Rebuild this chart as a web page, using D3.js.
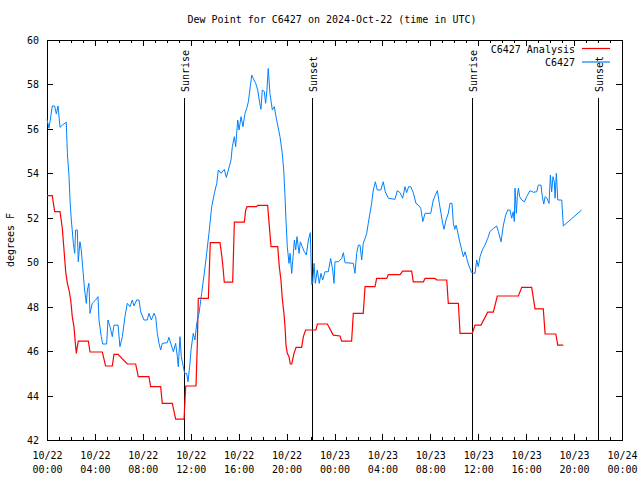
<!DOCTYPE html>
<html><head><meta charset="utf-8">
<script src="https://cdn.jsdelivr.net/npm/d3@7"></script>
<style>
body{margin:0;background:#fff;}
svg{display:block;}
text{font-family:"DejaVu Sans Mono",monospace;font-size:10px;fill:#000;}
</style></head>
<body><svg id="c" width="640" height="480"></svg>
<script>
// hours since 2024-10-22 00:00 UTC, degrees F
const obsHours = [0,0.17,0.25,0.44,0.64,0.78,0.92,1.09,1.28,1.61,1.7,1.84,1.92,2.03,2.2,2.31,2.39,2.53,2.61,2.75,2.86,3.0,3.14,3.28,3.37,3.5,3.59,3.78,4.06,4.26,4.34,4.53,4.65,4.98,5.09,5.26,5.45,5.59,5.93,6.09,6.29,6.51,6.7,6.93,7.12,7.26,7.49,7.68,7.82,8.1,8.37,8.51,8.71,8.93,9.07,9.21,9.35,9.49,9.62,10.04,10.18,10.33,10.55,10.74,10.88,10.96,11.1,11.21,11.38,11.49,11.66,11.77,11.94,12.02,12.21,12.35,12.5,12.69,12.91,13.13,13.33,13.52,13.75,13.97,14.17,14.3,14.53,14.8,14.97,15.14,15.36,15.47,15.64,15.75,15.92,16.03,16.2,16.36,16.53,16.67,16.81,16.97,17.09,17.22,17.42,17.59,17.76,17.86,17.97,18.14,18.25,18.36,18.47,18.61,18.81,18.97,19.17,19.45,19.64,19.76,19.87,19.95,20.06,20.2,20.29,20.43,20.54,20.65,20.76,20.87,21.04,21.15,21.31,21.48,21.65,21.82,21.98,22.1,22.18,22.29,22.4,22.56,22.73,22.87,23.01,23.21,23.48,23.68,23.85,23.96,24.04,24.32,24.6,24.74,24.88,25.57,25.71,25.85,25.99,26.13,26.27,26.4,26.55,26.69,26.82,26.96,27.1,27.24,27.41,27.57,27.86,28.07,28.24,28.49,29.05,29.24,29.47,29.69,29.89,30.02,30.19,30.36,30.58,30.8,31.0,31.2,31.37,31.56,32.03,32.25,32.42,32.59,32.75,32.89,33.03,33.14,33.31,33.5,33.64,33.81,33.92,34.04,34.15,34.25,34.42,34.62,34.76,34.9,35.04,35.2,35.45,35.73,35.87,36.0,36.15,36.34,36.56,36.79,36.98,37.26,37.54,37.68,37.9,38.1,38.29,38.46,38.65,38.79,38.92,39.01,39.07,39.18,39.26,39.35,39.46,39.63,39.85,40.04,40.32,40.6,40.88,41.01,41.24,41.35,41.47,41.58,41.74,41.91,42.02,42.13,42.24,42.35,42.41,42.52,42.64,42.97,43.1,44.63];
const obsValues = [56.43,56.03,56.32,57.03,57.03,56.67,57.03,56.07,56.17,56.3,54.9,53.85,52.8,51.9,50.85,50.4,51.45,51.45,50.02,50.92,50.55,49.65,48.75,48.15,48.75,49.05,47.7,48.15,48.3,48.45,47.4,46.65,46.32,46.32,47.4,47.1,46.65,47.17,47.17,46.2,46.65,47.55,48.15,48.0,48.3,48.03,48.3,48.3,47.77,47.4,47.4,47.7,47.4,47.7,47.55,46.8,46.35,46.05,46.35,46.38,46.62,46.35,45.97,46.35,45.75,45.3,46.65,45.75,45.3,45.0,45.0,44.62,45.45,46.05,46.8,46.5,47.25,47.7,48.6,49.5,50.4,51.3,52.5,53.1,53.55,54.15,54.0,54.18,53.82,54.15,54.6,55.2,55.65,55.2,56.4,55.95,56.55,56.1,56.7,56.92,57.22,57.9,58.42,58.27,58.05,57.75,57.15,56.88,57.75,57.68,57.15,57.75,58.72,57.6,56.85,57.0,56.4,55.65,54.9,54.15,52.95,51.9,50.7,49.95,50.4,49.5,50.25,51.0,50.55,51.15,50.4,50.92,50.7,50.47,50.33,51.0,51.33,49.0,49.05,49.95,49.05,49.65,49.05,49.5,49.2,49.57,49.57,50.17,49.65,49.05,50.02,50.02,50.17,50.43,49.98,49.95,49.5,50.4,50.77,50.77,50.1,50.85,51.07,51.3,51.75,52.2,52.65,53.25,53.62,53.25,53.25,53.62,53.17,52.88,52.83,53.22,53.13,52.88,53.4,53.13,53.4,53.4,53.13,52.65,52.57,52.43,51.83,52.2,52.2,52.8,53.02,53.22,52.65,52.2,51.75,51.48,51.9,52.2,52.65,52.65,51.75,51.48,51.67,51.45,51.0,50.55,50.25,50.47,50.17,49.87,49.53,49.5,50.1,49.8,50.25,50.55,50.77,51.07,51.38,51.52,51.63,51.38,50.92,51.67,52.12,52.35,52.35,51.98,52.27,51.83,53.33,52.2,52.95,53.33,52.95,52.8,52.72,52.95,53.22,53.15,53.17,53.47,53.47,52.95,52.62,52.95,52.88,52.65,53.92,53.17,53.85,53.62,52.88,54.0,52.8,52.8,51.63,52.35];

const anaHours = [0,0.44,0.64,1.09,1.28,1.42,1.56,1.7,1.84,1.98,2.11,2.25,2.39,2.45,2.53,2.61,3.45,3.59,4.62,4.89,5.45,5.59,5.93,6.7,7.4,7.62,8.51,8.65,9.49,9.62,10.46,10.74,11.44,11.58,12.44,12.55,12.63,13.47,13.63,14.44,14.6,14.7,14.8,15.5,15.64,16.47,16.59,16.7,17.5,17.58,18.42,18.7,19.26,19.39,19.53,19.64,19.78,19.87,19.95,20.06,20.2,20.31,20.43,20.62,20.79,21.26,21.4,21.59,22.45,22.57,23.4,23.9,24.46,24.6,25.43,25.57,26.4,26.55,27.38,27.52,28.36,28.49,29.47,29.69,30.44,30.58,31.42,31.56,32.39,32.53,33.37,33.5,34.34,34.48,35.5,35.73,36.23,36.79,37.26,37.59,39.35,39.63,40.46,40.74,41.43,41.58,42.47,42.64,43.1];
const anaValues = [53.0,53.0,52.28,52.28,51.52,50.55,49.57,49.05,48.75,48.3,47.55,47.1,46.2,45.9,46.2,46.45,46.45,45.96,45.96,45.33,45.33,45.85,45.85,45.42,45.42,44.85,44.85,44.4,44.4,43.65,43.65,42.94,42.94,44.43,44.43,46.35,48.37,48.37,50.88,50.88,50.25,49.73,49.1,49.1,51.8,51.8,52.35,52.5,52.5,52.56,52.56,50.7,50.7,49.8,49.2,48.37,47.7,47.1,46.27,45.9,45.75,45.42,45.42,45.9,46.17,46.17,46.65,46.95,46.95,47.22,47.22,46.72,46.68,46.45,46.45,47.7,47.7,48.9,48.9,49.27,49.27,49.44,49.44,49.6,49.6,49.12,49.12,49.27,49.27,49.2,49.2,48.15,48.15,46.8,46.8,47.17,47.17,47.75,47.75,48.48,48.48,48.87,48.87,47.9,47.9,46.77,46.77,46.27,46.27];

const sunEventHours = [11.47, 22.1, 35.5, 46.03];
const sunEventLabels = ["Sunrise", "Sunset", "Sunrise", "Sunset"];
const yTickValues = [42,44,46,48,50,52,54,56,58,60];
const seriesNames = ["C6427 Analysis", "C6427"];
const seriesColors = ["#ff0000", "#0080ff"];
const titleText = "Dew Point for C6427 on 2024-Oct-22 (time in UTC)";
const yLabel = "degrees F";

const t0 = Date.UTC(2024, 9, 22);
const toDate = h => new Date(t0 + h * 3600e3);

const L = 47, R = 622, T = 40, B = 440;
const svg = d3.select("#c");
const x = d3.scaleUtc().domain([toDate(0), toDate(48)]).range([L, R]);
const y = d3.scaleLinear().domain([42, 60]).range([B, T]);

svg.append("text").attr("x", 332).attr("y", 23).attr("text-anchor", "middle").text(titleText);
svg.append("text").attr("transform", "translate(14,240) rotate(-90)").attr("text-anchor", "middle").text(yLabel);

svg.append("g").attr("transform", `translate(0,${B})`)
  .call(d3.axisBottom(x).ticks(d3.utcHour.every(1)).tickSize(-3).tickFormat(""))
  .call(g => g.select(".domain").remove());
svg.append("g").attr("transform", `translate(0,${T})`)
  .call(d3.axisTop(x).ticks(d3.utcHour.every(1)).tickSize(-3).tickFormat(""))
  .call(g => g.select(".domain").remove());

const fmtD = d3.utcFormat("%m/%d"), fmtT = d3.utcFormat("%H:%M");
const gxb = svg.append("g").attr("transform", `translate(0,${B})`)
  .call(d3.axisBottom(x).ticks(d3.utcHour.every(4)).tickSize(-6).tickPadding(0).tickFormat(""));
gxb.select(".domain").remove();
gxb.selectAll(".tick").append("text").attr("fill", "#000").attr("text-anchor", "middle")
  .each(function(d){
    const t = d3.select(this);
    t.append("tspan").attr("x", 0).attr("y", 19).text(fmtD(d));
    t.append("tspan").attr("x", 0).attr("y", 33).text(fmtT(d));
  });
svg.append("g").attr("transform", `translate(0,${T})`)
  .call(d3.axisTop(x).ticks(d3.utcHour.every(4)).tickSize(-6).tickFormat(""))
  .call(g => g.select(".domain").remove());

const gyl = svg.append("g").attr("transform", `translate(${L},0)`)
  .call(d3.axisLeft(y).tickValues(yTickValues).tickSize(-6).tickPadding(8).tickFormat(d3.format("d")));
gyl.select(".domain").remove();
gyl.selectAll(".tick text").attr("dy", "0.35em");
svg.append("g").attr("transform", `translate(${R},0)`)
  .call(d3.axisRight(y).tickValues(yTickValues).tickSize(-6).tickFormat(""))
  .call(g => g.select(".domain").remove());

svg.selectAll(".tick line").attr("stroke", "#000").attr("shape-rendering", "crispEdges");
svg.selectAll("g").attr("font-family", null).attr("font-size", null);

svg.append("rect").attr("x", L).attr("y", T).attr("width", R - L).attr("height", B - T)
  .attr("fill", "none").attr("stroke", "#000").attr("stroke-width", 1).attr("shape-rendering", "crispEdges");

sunEventHours.forEach((h, i) => {
  const xp = Math.round(x(toDate(h))) + 0.5;
  svg.append("line").attr("x1", xp).attr("x2", xp).attr("y1", 98).attr("y2", B)
    .attr("stroke", "#000").attr("stroke-width", 1);
  svg.append("text").attr("transform", `translate(${xp + 4},92) rotate(-90)`).text(sunEventLabels[i]);
});

const line = d3.line().x(d => x(toDate(d[0]))).y(d => y(d[1]));
const anaData = anaHours.map((h, i) => [h, anaValues[i]]);
const obsData = obsHours.map((h, i) => [h, obsValues[i]]);
svg.append("path").datum(anaData).attr("d", line).attr("fill", "none")
  .attr("stroke", seriesColors[0]).attr("stroke-width", 1.2);
svg.append("path").datum(obsData).attr("d", line).attr("fill", "none")
  .attr("stroke", seriesColors[1]).attr("stroke-width", 1);

seriesNames.forEach((n, i) => {
  const yy = 48.5 + i * 13.5;
  svg.append("text").attr("x", 575).attr("y", yy + 4).attr("text-anchor", "end").text(n);
  svg.append("line").attr("x1", 582).attr("x2", 610).attr("y1", yy).attr("y2", yy)
    .attr("stroke", seriesColors[i]).attr("stroke-width", 1.2);
});
</script></body></html>
